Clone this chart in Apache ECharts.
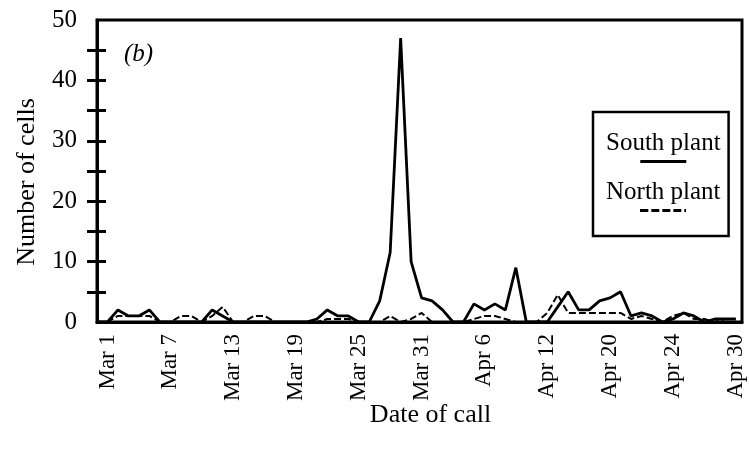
<!DOCTYPE html>
<html>
<head>
<meta charset="utf-8">
<script src="https://cdn.jsdelivr.net/npm/echarts@6/dist/echarts.min.js"></script>
<style>html,body{margin:0;padding:0;background:#fff}#c{width:749px;height:450px}</style>
</head>
<body>
<div id="c"></div>
<script>
// Day index 0 = day before Mar 1; one point per day through Apr 30 (index 61)
const southPlant = [0,0,2,1,1,2,0,0,0,0, 0,2,1,0,0,0,0,0,0,0, 0,0.5,2,1,1,0,0,3.5,11.5,47, 10,4,3.5,2,0,0,3,2,3,2, 9,0,0,0,2.5,5,2,2,3.5,4, 5,1,1.5,1,0,0.5,1.5,1,0,0.5, 0.5,0.5];
const northPlant = [0,0,1,1,1,1,0,0,1,1, 0,1,2.5,0,0,1,1,0,0,0, 0,0,0.5,0.5,0.5,0,0,0,1,0, 0.5,1.5,0,0,0,0,0.5,1,1,0.5, 0,0,0,1.5,4.5,1.5,1.5,1.5,1.5,1.5, 1.5,0.5,1,0.5,0,1,1.5,0.5,0.5,0, 0.5,0.5];
const tickPositions = [1,7,13,19,25,31,37,43,49,55,61];
const tickLabels = ['Mar 1','Mar 7','Mar 13','Mar 19','Mar 25','Mar 31','Apr 6','Apr 12','Apr 20','Apr 24','Apr 30'];
const yLabelValues = [0,10,20,30,40,50];
const yTickValues = [5,10,15,20,25,30,35,40,45];
const seriesNames = ['South plant','North plant'];

const FONT = 'Liberation Serif';
const FS = 25;
const NFS = 26;
const toPairs = arr => arr.map((v, i) => [i, v]);

// dashed legend swatch
const dash = document.createElement('canvas');
dash.width = 46; dash.height = 3;
(function(){const g = dash.getContext('2d'); g.fillStyle = '#000'; for (let x = 0; x < 46; x += 11) g.fillRect(x, 0, Math.min(8, 46 - x), 3);})();

const chart = echarts.init(document.getElementById('c'));
chart.setOption({
  animation: false,
  backgroundColor: '#fff',
  title: {
    text: '(b)', left: 119, top: 37,
    textStyle: {fontFamily: FONT, fontStyle: 'italic', fontWeight: 'normal', fontSize: FS, color: '#000'}
  },
  grid: {left: 97, top: 20, right: 7, bottom: 128, show: true, borderColor: '#000', borderWidth: 3},
  legend: {
    orient: 'vertical', left: 593, top: 112,
    data: seriesNames, icon: 'none', itemWidth: 0, itemHeight: 0, itemGap: 12,
    selectedMode: false,
    borderColor: '#000', borderWidth: 2.5, padding: [19, 8, 20, 8],
    formatter: name => '{t|' + name + '}\n{' + (name === seriesNames[0] ? 's' : 'd') + '|}',
    textStyle: {
      rich: {
        t: {fontFamily: FONT, fontSize: FS, color: '#000', lineHeight: 30, align: 'center'},
        s: {width: 46, height: 3, lineHeight: 6, backgroundColor: '#000', align: 'center'},
        d: {width: 46, height: 3, lineHeight: 6, backgroundColor: {image: dash}, align: 'center'}
      }
    }
  },
  xAxis: {
    type: 'value', min: 0, max: 61.6,
    name: 'Date of call', nameLocation: 'middle', nameGap: 80, nameMoveOverlap: false,
    nameTextStyle: {fontFamily: FONT, fontSize: NFS, color: '#000', padding: [0, 0, 0, 22]},
    axisLine: {lineStyle: {color: '#000', width: 3}},
    axisTick: {show: false},
    splitLine: {show: false},
    axisLabel: {
      customValues: tickPositions, rotate: 90, margin: 12,
      fontFamily: FONT, fontSize: 23, color: '#000',
      formatter: v => tickLabels[tickPositions.indexOf(v)]
    }
  },
  yAxis: [{
    type: 'value', min: 0, max: 50,
    name: 'Number of cells', nameLocation: 'middle', nameGap: 57, nameMoveOverlap: false,
    nameTextStyle: {fontFamily: FONT, fontSize: NFS, color: '#000', padding: [0, 22, 0, 0]},
    axisLine: {lineStyle: {color: '#000', width: 3}},
    axisTick: {customValues: yTickValues, length: 10, lineStyle: {color: '#000', width: 3}},
    splitLine: {show: false},
    axisLabel: {customValues: yLabelValues, margin: 20, fontFamily: FONT, fontSize: FS, color: '#000'}
  }, {
    type: 'value', min: 0, max: 50, position: 'left',
    axisLine: {show: false},
    axisTick: {customValues: yTickValues, inside: true, length: 9, lineStyle: {color: '#000', width: 3}},
    splitLine: {show: false},
    axisLabel: {show: false}
  }],
  series: [{
    name: seriesNames[0], type: 'line', data: toPairs(southPlant), yAxisIndex: 0,
    symbol: 'none', lineStyle: {color: '#000', width: 2.8}, itemStyle: {color: '#000'}, z: 3
  }, {
    name: seriesNames[1], type: 'line', data: toPairs(northPlant), yAxisIndex: 0,
    symbol: 'none', lineStyle: {color: '#000', width: 2, type: [7, 3]}, itemStyle: {color: '#000'}, z: 2
  }]
});
</script>
</body>
</html>
